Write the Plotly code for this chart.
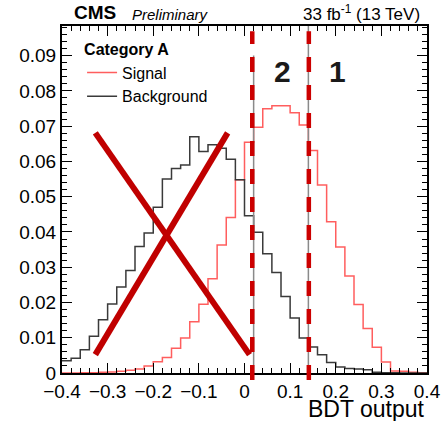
import plotly.graph_objects as go

# ---- data ----
bin_lo, bin_hi, n_bins = -0.4, 0.4, 40
signal = [0.0000, 0.0000, 0.0001, 0.0001, 0.0002, 0.0003, 0.0005, 0.0008, 0.0011, 0.0020,
          0.0032, 0.0044, 0.0070, 0.0099, 0.0145, 0.0195, 0.0267, 0.0363, 0.0441, 0.0548,
          0.0654, 0.0697, 0.0749, 0.0758, 0.0758, 0.0738, 0.0703, 0.0631, 0.0533, 0.0429,
          0.0357, 0.0275, 0.0194, 0.0126, 0.0073, 0.0031, 0.0006, 0.0005, 0.0002, 0.0001]
background = [0.0035, 0.0042, 0.0066, 0.0104, 0.0151, 0.0196, 0.0244, 0.0291, 0.0359, 0.0397,
              0.0470, 0.0550, 0.0580, 0.0590, 0.0670, 0.0628, 0.0647, 0.0637, 0.0606, 0.0548,
              0.0446, 0.0399, 0.0338, 0.0285, 0.0217, 0.0156, 0.0099, 0.0074, 0.0052, 0.0030,
              0.0017, 0.0013, 0.0011, 0.0009, 0.0002, 0.0001, 0.0001, 0.0000, 0.0000, 0.0000]
cut_lines = [0.017, 0.141]          # red dashed category boundaries
gray_lines = [0.02, 0.14]
gray_tops = [0.09, 0.0984]
cat_labels = ["2", "1"]
cat_label_x = [0.083, 0.204]
cat_label_y = 0.0855
cross_x = [-0.327, 0.011, -0.037]
cross_y = [0.0681, 0.0052]

edges = [bin_lo + i * (bin_hi - bin_lo) / n_bins for i in range(n_bins + 1)]

fig = go.Figure()
fig.add_trace(go.Scatter(x=edges, y=signal + [signal[-1]], mode="lines", line_shape="hv",
                         name="Signal", line=dict(color="rgba(255,40,40,0.75)", width=1.5)))
fig.add_trace(go.Scatter(x=edges, y=background + [background[-1]], mode="lines", line_shape="hv",
                         name="Background", line=dict(color="#3a3a3a", width=1.5)))

shapes = []
for gx, gt in zip(gray_lines, gray_tops):
    shapes.append(dict(type="line", xref="x", yref="y", x0=gx, x1=gx, y0=0, y1=gt,
                       line=dict(color="#8a8a8a", width=1.5)))
for cx in cut_lines:
    shapes.append(dict(type="line", xref="x", yref="paper", x0=cx, x1=cx, y0=-0.02, y1=0.985,
                       line=dict(color="#cc0000", width=4.5, dash="15px,13px")))
# the X
shapes.append(dict(type="line", xref="x", yref="y", x0=cross_x[0], x1=cross_x[1],
                   y0=cross_y[0], y1=cross_y[1], line=dict(color="#c00000", width=6)))
shapes.append(dict(type="line", xref="x", yref="y", x0=cross_x[0], x1=cross_x[2],
                   y0=cross_y[1], y1=cross_y[0], line=dict(color="#c00000", width=6)))

annotations = []
for t, tx in zip(cat_labels, cat_label_x):
    annotations.append(dict(x=tx, y=cat_label_y, xref="x", yref="y", text=f"<b>{t}</b>",
                            showarrow=False, font=dict(size=30, color="#1a1a1a")))
annotations += [
    dict(x=(72 - 62) / 365, y=1.0, xref="paper", yref="paper", text="<b>CMS</b>", showarrow=False,
         xanchor="left", yanchor="bottom", yshift=1, font=dict(size=19, color="black")),
    dict(x=(130 - 62) / 365, y=1.0, xref="paper", yref="paper", text="<i>Preliminary</i>", showarrow=False,
         xanchor="left", yanchor="bottom", yshift=1, font=dict(size=15, color="black")),
    dict(x=0.986, y=1.0, xref="paper", yref="paper", text="33 fb<sup>-1</sup> (13 TeV)",
         showarrow=False, xanchor="right", yanchor="bottom", yshift=0, font=dict(size=17, color="black")),
    dict(x=1.0, y=-0.104, xref="paper", yref="paper", text="BDT output", showarrow=False,
         xanchor="right", yanchor="middle", font=dict(size=23, color="black")),
]

fig.update_layout(
    width=448, height=421,
    margin=dict(l=62, r=21, t=26, b=48, autoexpand=False),
    paper_bgcolor="white", plot_bgcolor="white",
    font=dict(family="Liberation Sans, Arial, sans-serif", color="black"),
    shapes=shapes, annotations=annotations,
    showlegend=True,
    legend=dict(x=0.055, y=0.975, xanchor="left", yanchor="top", bgcolor="rgba(0,0,0,0)",
                title=dict(text="<b>Category A</b>", font=dict(size=16)),
                font=dict(size=16), itemwidth=30, tracegroupgap=0),
)
fig.update_xaxes(range=[bin_lo, bin_hi], dtick=0.1, tick0=0, showgrid=False, zeroline=False,
                 automargin=False,
                 showline=True, linecolor="black", linewidth=2, mirror="ticks",
                 ticks="inside", ticklen=10, tickwidth=1.2, tickcolor="black",
                 tickfont=dict(size=19),
                 minor=dict(dtick=0.02, ticks="inside", ticklen=5, tickwidth=1.2, tickcolor="black", showgrid=False))
fig.update_yaxes(range=[0, 0.0984], dtick=0.01, tick0=0, showgrid=False, zeroline=False,
                 automargin=False,
                 showline=True, linecolor="black", linewidth=2, mirror="ticks",
                 ticks="inside", ticklen=10, tickwidth=1.2, tickcolor="black",
                 tickfont=dict(size=19),
                 minor=dict(dtick=0.002, ticks="inside", ticklen=5, tickwidth=1.2, tickcolor="black", showgrid=False))

fig.write_html("out.html", config={"displayModeBar": False},
               post_script="document.body.style.margin='0';document.body.style.padding='0';")
